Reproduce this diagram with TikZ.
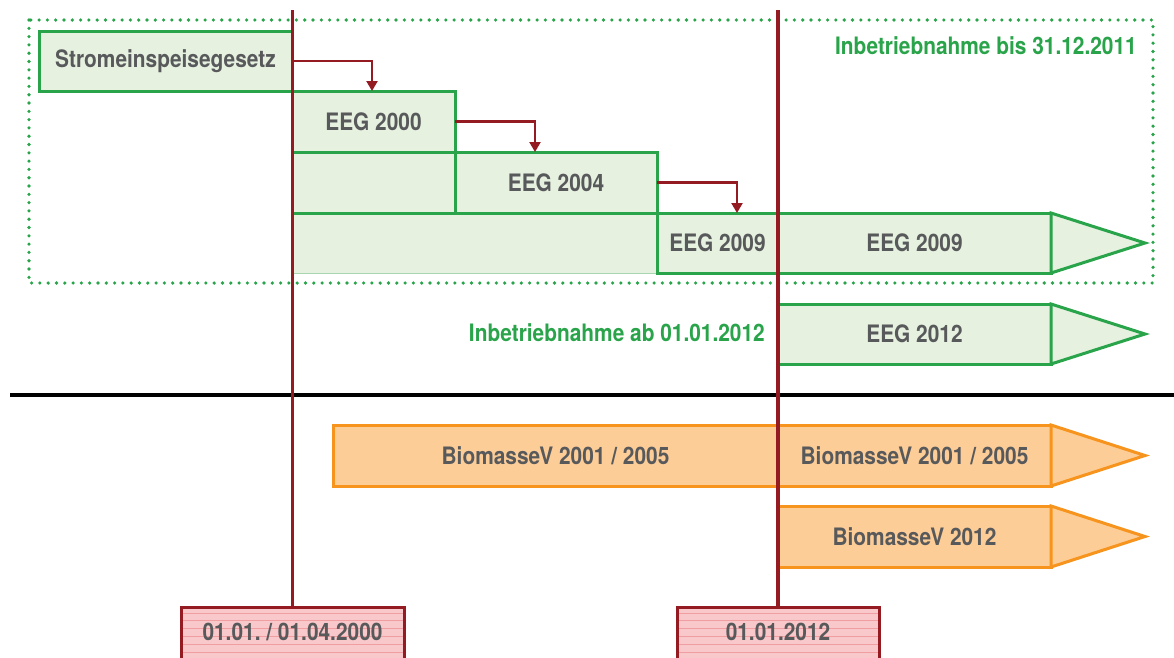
\documentclass[tikz,border=0pt]{standalone}
\usepackage{fontspec}
\setmainfont[FakeStretch=0.87]{TeX Gyre Heros}
\usetikzlibrary{arrows.meta}
\definecolor{grn}{RGB}{41,164,74}
\definecolor{lgrn}{RGB}{230,241,224}
\definecolor{thingrn}{RGB}{170,214,175}
\definecolor{txt}{RGB}{88,89,91}
\definecolor{dred}{RGB}{148,27,33}
\definecolor{org}{RGB}{247,148,29}
\definecolor{lorg}{RGB}{253,205,152}
\definecolor{pinkf}{RGB}{249,200,202}
\definecolor{stripe}{RGB}{240,158,162}
\frenchspacing
\begin{document}
\begin{tikzpicture}[x=1pt,y=-1pt,
  font=\fontsize{24}{28}\selectfont\bfseries\frenchspacing,
  base/.style={inner sep=0pt, outer sep=0pt, anchor=north west, text=txt},
  gbox/.style={base, draw=grn, fill=lgrn, line width=3pt},
  gfill/.style={base, fill=lgrn},
  obox/.style={base, draw=org, fill=lorg, line width=3pt},
  gtip/.style={draw=grn, fill=lgrn, line width=3pt, line join=miter},
  otip/.style={draw=org, fill=lorg, line width=3pt, line join=miter},
  conn/.style={draw=dred, line width=2.2pt, -{Triangle[length=10pt,width=11pt]}},
  redline/.style={draw=dred, line width=3.8pt},
  datebox/.style={base, draw=dred, fill=pinkf, line width=3pt,
    path picture={\foreach \k in {0,...,7}
      \draw[stripe, line width=0.8pt] ([yshift=-6pt-\k*7.8pt]path picture bounding box.north west) -- ++(400,0);}},
  gtitle/.style={inner sep=0pt, text=grn}
]
\useasboundingbox (0,0) rectangle (1174,657);

% dotted frame
\draw[grn, line width=3.6pt, line cap=round, dash pattern=on 0pt off 8.3pt] (29,20) rectangle (1153,283);
\node[gtitle, anchor=east] (title1) at (1137,46) {Inbetriebnahme bis 31.12.2011};

% EEG boxes
\node[gfill, minimum width=365pt, minimum height=60pt] (cont2) at (292,213) {};
\draw[thingrn, line width=1pt] (cont2.south west) -- (cont2.south east);
\draw[grn, line width=3pt] (cont2.north west) -- (cont2.north east);
\node[gbox, minimum width=163pt, minimum height=61pt] (cont1) at (292,152) {};
\node[gbox, minimum width=253pt, minimum height=60pt] (strom) at (39,31) {Stromeinspeisegesetz};
\node[gbox, minimum width=163pt, minimum height=61pt] (eeg2000) at (292,91) {EEG 2000};
\node[gbox, minimum width=202pt, minimum height=61pt] (eeg2004) at (455,152) {EEG 2004};
\node[gbox, minimum width=121pt, minimum height=60pt] (eeg2009a) at (657,213) {EEG 2009};
\node[gbox, minimum width=273pt, minimum height=60pt] (eeg2009b) at (778,213) {EEG 2009};
\draw[gtip] (eeg2009b.north east) -- (1145,243) -- (eeg2009b.south east) -- cycle;

\node[gtitle, anchor=east] (title2) at (765,333) {Inbetriebnahme ab 01.01.2012};
\node[gbox, minimum width=273pt, minimum height=60pt] (eeg2012) at (778,304) {EEG 2012};
\draw[gtip] (eeg2012.north east) -- (1145,334) -- (eeg2012.south east) -- cycle;

% connectors
\coordinate (c1) at (372,91);
\coordinate (c2) at (535,152);
\coordinate (c3) at (737,213);
\draw[conn] (strom.east) -| (c1);
\draw[conn] (eeg2000.east) -| (c2);
\draw[conn] (eeg2004.east) -| (c3);

% separator
\draw[black, line width=4.5pt] (10,395) -- (1174,395);

% Biomasse
\node[obox, minimum width=445pt, minimum height=61pt] (bio1a) at (333,425) {BiomasseV 2001 / 2005};
\node[obox, minimum width=273pt, minimum height=61pt] (bio1b) at (778,425) {BiomasseV 2001 / 2005};
\draw[otip] (bio1b.north east) -- (1145,455.5) -- (bio1b.south east) -- cycle;
\node[obox, minimum width=273pt, minimum height=61pt] (bio2) at (778,506) {BiomasseV 2012};
\draw[otip] (bio2.north east) -- (1145,536.5) -- (bio2.south east) -- cycle;

% date boxes and red lines
\node[datebox, minimum width=223pt, minimum height=60pt] (d1) at (181,607) {};
\node[datebox, minimum width=202pt, minimum height=60pt] (d2) at (677,607) {};
\node[text=txt, inner sep=0pt] (d1t) at (292.5,632) {01.01. / 01.04.2000};
\node[text=txt, inner sep=0pt] (d2t) at (778,632) {01.01.2012};
\coordinate (r1) at (292.5,10);
\coordinate (r2) at (778,10);
\draw[redline] (r1) -- (r1 |- d1.north);
\draw[redline] (r2) -- (r2 |- d2.north);
\end{tikzpicture}
\end{document}
